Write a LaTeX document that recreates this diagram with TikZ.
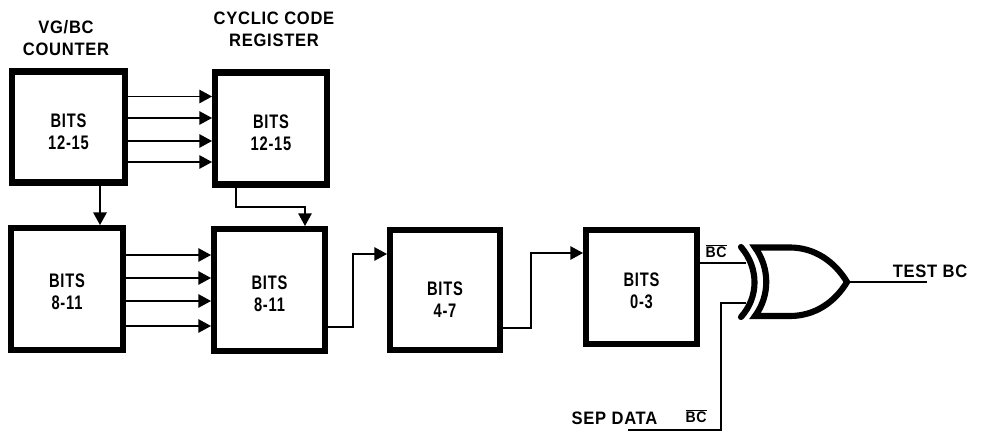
\documentclass[tikz,border=0pt]{standalone}
\usepackage{fontspec}
\setmainfont[FakeStretch=0.75,LetterSpace=4,BoldFont={Liberation Sans Bold}]{Liberation Sans}
\newfontfamily\titlefont[FakeStretch=0.92,LetterSpace=4]{Liberation Sans Bold}
\usetikzlibrary{arrows.meta,calc}
\newcommand{\dn}[1]{\rule{0pt}{\dimexpr 11pt+2\dimexpr #1\relax\relax}}
\tikzset{
  block/.style={draw=black,fill=white,line width=4.8pt,outer sep=0pt,inner sep=0pt,align=center,
    font=\bfseries\fontsize{14.7}{16.5}\selectfont},
  wire/.style={draw=black,line width=1.15pt},
  arr/.style={wire,-{Triangle[length=9.5pt,width=10pt]}},
  gatestroke/.style={draw=black,line width=4.6pt},
  label/.style={inner sep=0pt,outer sep=0pt,font=\titlefont\fontsize{13.5}{16.5}\selectfont,align=center,text=black},
  barlabel/.style={inner sep=0pt,outer sep=0pt,font=\titlefont\fontsize{11.5}{14}\selectfont,text=black}
}
\newcommand{\ovl}[1]{$\overline{\mbox{#1}}$}
\begin{document}
\begin{tikzpicture}[x=0.75pt,y=-0.75pt]
\useasboundingbox[fill=white] (0,0) rectangle (982,432);
% blocks
\node[block,minimum width=84.75pt,minimum height=83.25pt] (A) at (68.5,127) {\dn{3pt}BITS\\12-15};
\node[block,minimum width=84pt,minimum height=84pt] (B) at (271,128.5) {\dn{3pt}BITS\\12-15};
\node[block,minimum width=84pt,minimum height=91.5pt] (C) at (67,289) {\dn{1.5pt}BITS\\8-11};
\node[block,minimum width=83.25pt,minimum height=91.5pt] (D) at (269.5,290) {\dn{2.2pt}BITS\\8-11};
\node[block,minimum width=82.5pt,minimum height=90pt] (E) at (445,290) {\dn{7pt}BITS\\4-7};
\node[block,minimum width=83.25pt,minimum height=85.5pt] (F) at (641.5,287) {\dn{2.2pt}BITS\\0-3};
% titles
\node[label] (t1) at (66,38.5) {VG/BC\\COUNTER};
\node[label] (t2) at (274,29) {CYCLIC CODE\\REGISTER};
% parallel arrows
\foreach \y in {96.5,118,141,162}{
  \coordinate (ab) at (0,\y);
  \draw[arr,shorten >=2.2pt] (A.east |- ab) -- (B.west |- ab);
}
\foreach \y in {255,278,301,326}{
  \coordinate (cd) at (0,\y);
  \draw[arr,shorten >=2.2pt] (C.east |- cd) -- (D.west |- cd);
}
% vertical links
\coordinate (acx) at (100,0);
\draw[arr,line width=1.5pt,shorten >=2.2pt] (A.south -| acx) -- (C.north -| acx);
\coordinate (b1) at (236,0);
\coordinate (b2) at (305,207);
\draw[arr,shorten >=2.2pt] (B.south -| b1) |- (b2) -- (D.north -| b2);
% chain
\coordinate (de1) at (353,327);
\coordinate (de2) at (353,254);
\draw[arr,shorten >=2.2pt] (D.east |- de1) -- (de1) -- (de2) -- (E.west |- de2);
\coordinate (ef1) at (531,328);
\coordinate (ef2) at (531,253);
\draw[arr,shorten >=2.2pt] (E.east |- ef1) -- (ef1) -- (ef2) -- (F.west |- ef2);
% gate
\coordinate (gin1) at (746,263);
\coordinate (gin2) at (746,303);
\coordinate (gout) at (847,282);
\draw[gatestroke,line cap=round] (741,247) .. controls (759,268) and (759,297) .. (741,317);
\draw[gatestroke,line join=miter,miter limit=10]
  (755,247.5) .. controls (770,268) and (770,296) .. (755,316)
  -- (790,316) .. controls (815,316) and (835,302) .. (gout)
  .. controls (835,262) and (815,247.5) .. (790,247.5) -- cycle;
\draw[wire] (F.east |- gin1) -- (gin1);
\coordinate (sepend) at (628,430);
\coordinate (sepcor) at (721,430);
\coordinate (sepup) at (721,303);
\draw[wire] (sepend) -- (sepcor) -- (sepup) -- (gin2);
\coordinate (outend) at (927,282);
\draw[wire] (gout) -- (outend);
% labels
\node[barlabel] (l1) at (716,251) {\ovl{BC}};
\node[label] (l2) at (930,271) {TEST BC};
\node[label] (l3) at (614.5,418) {SEP DATA};
\node[barlabel] (l4) at (696,416) {\ovl{BC}};
\end{tikzpicture}
\end{document}
